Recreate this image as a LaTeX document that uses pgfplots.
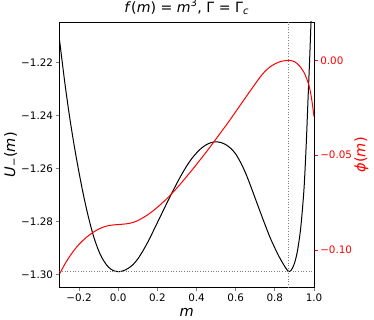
\documentclass[border=0pt]{standalone}
\usepackage{fontspec}
\setmainfont{DejaVu Sans}
\usepackage{pgfplots}
\pgfplotsset{compat=1.18}

\pgfplotsset{
  twinbase/.style={
    scale only axis, width=254.5bp, height=265.7bp,
    at={(0,0)}, anchor=south west,
    xmin=-0.3, xmax=1.0,
    tick align=outside, major tick length=3.6bp,
    every tick/.append style={line width=0.8bp},
    axis line style={line width=0.8bp},
    tick label style={font=\fontsize{10.4}{12}\selectfont, inner sep=0pt},
    label style={font=\fontsize{14.6}{17}\selectfont, inner sep=0pt},
  }
}

\begin{document}
\begin{tikzpicture}
\begin{axis}[
  twinbase,
  ymin=-1.30506, ymax=-1.2048,
  xtick={-0.2,0,0.2,0.4,0.6,0.8,1.0},
  xticklabels={−0.2,0.0,0.2,0.4,0.6,0.8,1.0},
  ytick={-1.30,-1.28,-1.26,-1.24,-1.22},
  yticklabels={−1.30,−1.28,−1.26,−1.24,−1.22},
  xtick pos=left, ytick pos=left,
  xticklabel style={yshift=-2.1bp},
  yticklabel style={xshift=-2.7bp},
  xlabel={\textit{m}},
  xlabel style={at={(axis description cs:0.5,0)}, anchor=base, yshift=-28.5bp},
  ylabel={\textit{U}\textsubscript{−}(\textit{m})},
  ylabel style={at={(axis description cs:0,0.5)}, anchor=south, yshift=42bp},
  title={\textit{f}(\textit{m}) = \textit{m}\textsuperscript{3}, Γ = Γ\textsubscript{\textit{c}}},
  title style={font=\fontsize{14.2}{16}\selectfont, at={(axis description cs:0.5,1)}, anchor=base, yshift=4bp, inner sep=0pt},
]
% U_-(m)
\addplot[black, line width=1bp, smooth] coordinates {
(-0.300,-1.2115) (-0.275,-1.2265) (-0.250,-1.2398) (-0.225,-1.2514)
(-0.200,-1.2617) (-0.175,-1.2710) (-0.150,-1.2791) (-0.125,-1.2859)
(-0.100,-1.2911) (-0.075,-1.2948) (-0.050,-1.2973) (-0.025,-1.2986)
(0.000,-1.2990) (0.025,-1.2987) (0.050,-1.2978) (0.075,-1.2964)
(0.100,-1.2942) (0.125,-1.2913) (0.150,-1.2880) (0.175,-1.2843)
(0.200,-1.2805) (0.225,-1.2767) (0.250,-1.2729) (0.275,-1.2692)
(0.300,-1.2656) (0.325,-1.2622) (0.350,-1.2591) (0.375,-1.2564)
(0.400,-1.2542) (0.425,-1.2524) (0.450,-1.2511) (0.475,-1.2503)
(0.500,-1.2500) (0.525,-1.2503) (0.550,-1.2511) (0.575,-1.2525)
(0.600,-1.2546) (0.625,-1.2578) (0.650,-1.2617) (0.675,-1.2664)
(0.700,-1.2714) (0.725,-1.2764) (0.750,-1.2813) (0.775,-1.2860)
(0.800,-1.2901) (0.825,-1.2938) (0.850,-1.2970) (0.860,-1.2981)
(0.872,-1.2990) (0.885,-1.2983) (0.900,-1.2959) (0.915,-1.2914)
(0.930,-1.2839) (0.940,-1.2763) (0.950,-1.2665) (0.960,-1.2515)
(0.970,-1.2330) (0.980,-1.2145) (0.990,-1.1930)
};
% reference lines
\addplot[gray, line width=1bp, dash pattern=on 1bp off 1.65bp] coordinates {(-0.3,-1.299) (1.0,-1.299)};
\addplot[gray, line width=1bp, dash pattern=on 1bp off 1.65bp] coordinates {(0.872,-1.31) (0.872,-1.20)};
\end{axis}

\begin{axis}[
  twinbase,
  ymin=-0.1199, ymax=0.0202,
  axis x line=none, axis y line*=right,
  ytick={-0.10,-0.05,0.00},
  yticklabels={−0.10,−0.05,0.00},
  ytick style={red},
  yticklabel style={red, xshift=2.5bp},
  ylabel={\textit{ϕ}(\textit{m})},
  ylabel style={red, at={(axis description cs:1,0.5)}, anchor=north, yshift=-40bp},
]
% phi(m)
\addplot[red, line width=1bp, smooth] coordinates {
(-0.300,-0.1127) (-0.275,-0.1079) (-0.250,-0.1037) (-0.225,-0.1001)
(-0.200,-0.0970) (-0.175,-0.0945) (-0.150,-0.0923) (-0.125,-0.0905)
(-0.100,-0.0890) (-0.075,-0.0879) (-0.050,-0.0872) (-0.025,-0.0868)
(0.000,-0.0866) (0.025,-0.0864) (0.050,-0.0861) (0.075,-0.0855)
(0.100,-0.0845) (0.125,-0.0831) (0.150,-0.0815) (0.175,-0.0796)
(0.200,-0.0775) (0.225,-0.0752) (0.250,-0.0728) (0.275,-0.0701)
(0.300,-0.0673) (0.325,-0.0643) (0.350,-0.0612) (0.375,-0.0581)
(0.400,-0.0549) (0.425,-0.0516) (0.450,-0.0483) (0.475,-0.0449)
(0.500,-0.0414) (0.525,-0.0379) (0.550,-0.0344) (0.575,-0.0308)
(0.600,-0.0271) (0.625,-0.0234) (0.650,-0.0197) (0.675,-0.0160)
(0.700,-0.0124) (0.725,-0.0088) (0.750,-0.0058) (0.775,-0.0035)
(0.800,-0.0019) (0.825,-0.0008) (0.850,-0.0002) (0.872,0.0000)
(0.900,-0.0007) (0.925,-0.0028) (0.950,-0.0066) (0.960,-0.0090)
(0.970,-0.0118) (0.980,-0.0158) (0.990,-0.0218) (1.000,-0.0297)
};
\end{axis}
\pgfresetboundingbox
\path (-59.5bp,-32.3bp) rectangle (314.5bp,287.7bp);
\end{tikzpicture}
\end{document}
